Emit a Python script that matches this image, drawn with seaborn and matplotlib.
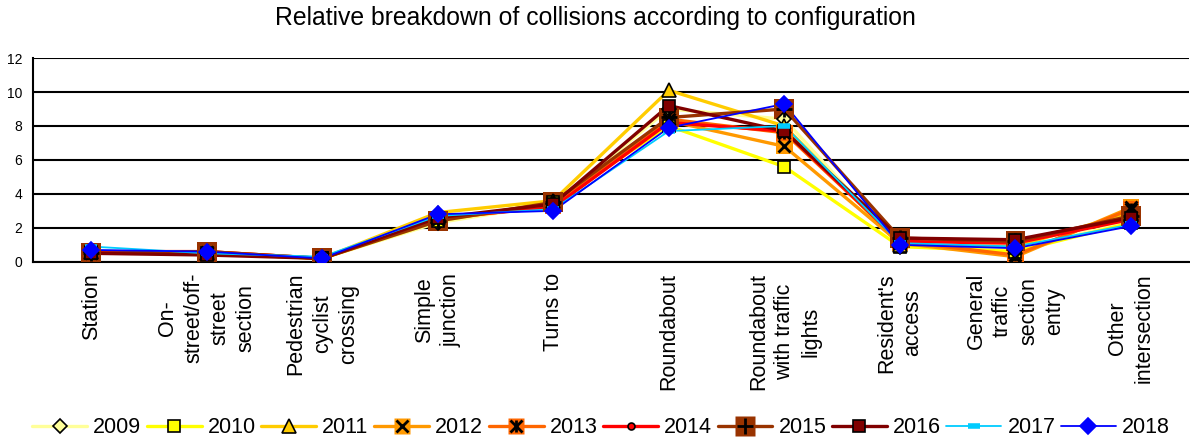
import numpy as np
import pandas as pd
import matplotlib
matplotlib.use("Agg")
import matplotlib.pyplot as plt
from matplotlib.lines import Line2D
from matplotlib.legend_handler import HandlerTuple
import seaborn as sns

categories = [
    "Station",
    "On-\nstreet/off-\nstreet\nsection",
    "Pedestrian\ncyclist\ncrossing",
    "Simple\njunction",
    "Turns to",
    "Roundabout",
    "Roundabout\nwith traffic\nlights",
    "Resident's\naccess",
    "General\ntraffic\nsection\nentry",
    "Other\nintersection",
]

years = ["2009", "2010", "2011", "2012", "2013", "2014", "2015", "2016", "2017", "2018"]

v2009 = [0.6, 0.5, 0.2, 2.3, 3.4, 9.0, 8.4, 0.9, 0.7, 2.4]
v2010 = [0.6, 0.5, 0.2, 2.4, 3.5, 8.0, 5.6, 0.9, 0.6, 2.3]
v2011 = [0.6, 0.5, 0.2, 2.9, 3.6, 10.1, 8.0, 1.0, 0.9, 2.9]
v2012 = [0.5, 0.5, 0.2, 2.5, 3.3, 8.3, 6.8, 1.1, 0.3, 3.2]
v2013 = [0.6, 0.6, 0.2, 2.5, 3.3, 8.4, 7.6, 1.2, 0.4, 3.1]
v2014 = [0.6, 0.6, 0.2, 2.6, 3.2, 8.2, 7.7, 1.2, 1.1, 2.5]
v2015 = [0.5, 0.6, 0.2, 2.4, 3.5, 8.5, 9.0, 1.4, 1.2, 2.7]
v2016 = [0.5, 0.4, 0.2, 2.6, 3.4, 9.2, 7.7, 1.4, 1.3, 2.6]
v2017 = [0.9, 0.5, 0.3, 2.7, 3.1, 7.7, 8.0, 1.1, 0.9, 2.2]
v2018 = [0.7, 0.6, 0.2, 2.8, 3.0, 7.9, 9.3, 1.0, 0.8, 2.1]

series = [v2009, v2010, v2011, v2012, v2013, v2014, v2015, v2016, v2017, v2018]

# line colour, line width, marker glyphs (drawn on top of each other), marker face,
# marker edge, marker size, edge width, backing square colour
styles = {
    "2009": dict(c="#FFFF99", lw=2.4, m=["D"], mfc="#FFFF99", mec="black", ms=7, mew=1.2, bg=None),
    "2010": dict(c="#FFFF00", lw=2.4, m=["s"], mfc="#FFFF00", mec="black", ms=8, mew=1.2, bg=None),
    "2011": dict(c="#FFCC00", lw=2.4, m=["^"], mfc="#FFCC00", mec="black", ms=10, mew=1.2, bg=None),
    "2012": dict(c="#FF9900", lw=2.4, m=["x"], mfc="black", mec="black", ms=9, mew=2.0, bg="#FF9900"),
    "2013": dict(c="#FF6600", lw=2.4, m=["x", "|"], mfc="black", mec="black", ms=9, mew=2.0, bg="#FF6600"),
    "2014": dict(c="#FF0000", lw=2.4, m=["o"], mfc="#FF0000", mec="black", ms=5, mew=1.2, bg=None),
    "2015": dict(c="#993300", lw=2.4, m=["+"], mfc="black", mec="black", ms=11, mew=2.0, bg="#993300"),
    "2016": dict(c="#800000", lw=2.4, m=["s"], mfc="#800000", mec="black", ms=8, mew=1.2, bg=None),
    "2017": dict(c="#00CCFF", lw=1.3, m=["_"], mfc="#00CCFF", mec="#00CCFF", ms=8, mew=4.0, bg=None),
    "2018": dict(c="#0000FF", lw=1.3, m=["D"], mfc="#0000FF", mec="#0000FF", ms=8, mew=1.2, bg=None),
}

sns.set_theme(style="white")
plt.rcParams["font.family"] = ["Liberation Sans", "DejaVu Sans"]
plt.rcParams["text.color"] = "black"
plt.rcParams["xtick.color"] = "black"
plt.rcParams["ytick.color"] = "black"
plt.rcParams["axes.labelcolor"] = "black"

fig = plt.figure(figsize=(11.9, 4.4), dpi=100)
ax = fig.add_axes([0.028, 0.405, 0.971, 0.463])

rows = []
for yr, vals in zip(years, series):
    for i, v in enumerate(vals):
        rows.append({"year": yr, "pos": i, "value": v})
df = pd.DataFrame(rows)

handles = []
for yr in years:
    st = styles[yr]
    sub = df[df["year"] == yr]
    sns.lineplot(data=sub, x="pos", y="value", ax=ax, color=st["c"], lw=st["lw"],
                 legend=False, zorder=3, sort=False)
    parts = [Line2D([], [], color=st["c"], lw=st["lw"])]
    if st["bg"] is not None:
        sns.scatterplot(data=sub, x="pos", y="value", ax=ax, marker="s", s=(st["ms"] * 1.3) ** 2,
                        color=st["bg"], edgecolor="none", linewidth=0, legend=False, zorder=4)
        parts.append(Line2D([], [], ls="none", marker="s", ms=st["ms"] * 1.3,
                            mfc=st["bg"], mec="none"))
    for mk in st["m"]:
        ax.plot(sub["pos"], sub["value"], ls="none", marker=mk, ms=st["ms"],
                mfc=st["mfc"], mec=st["mec"], mew=st["mew"], zorder=5)
        parts.append(Line2D([], [], ls="none", marker=mk, ms=st["ms"], mfc=st["mfc"],
                            mec=st["mec"], mew=st["mew"]))
    handles.append(tuple(parts))

ax.set_xlim(-0.5, len(categories) - 0.5)
ax.set_ylim(0, 12)
ax.set_yticks(np.arange(0, 13, 2))
ax.set_yticklabels([str(t) for t in range(0, 13, 2)], fontsize=10, color="black")
ax.set_xticks(np.arange(len(categories)))
ax.set_xticklabels(categories, rotation=90, fontsize=15.5, va="top", ha="center",
                   multialignment="center", linespacing=1.32, color="black")
ax.set_xticks(np.arange(len(categories) + 1) - 0.5, minor=True)
ax.tick_params(axis="x", which="major", length=0, pad=8)
ax.tick_params(axis="x", which="minor", length=6, width=1.5, color="black", direction="out")
ax.tick_params(axis="y", length=5, width=1.5, color="black", direction="out", pad=3)
ax.yaxis.grid(True, color="black", lw=1.5)
ax.set_axisbelow(True)
ax.set_xlabel("")
ax.set_ylabel("")

for side in ("top", "right"):
    ax.spines[side].set_visible(False)
for side in ("left", "bottom"):
    ax.spines[side].set_color("black")
    ax.spines[side].set_linewidth(1.5)

fig.text(0.5, 0.958, "Relative breakdown of collisions according to configuration",
         ha="center", va="center", fontsize=17.8, color="black")

fig.legend(handles, years, loc="center", bbox_to_anchor=(0.505, 0.028), ncol=10,
           frameon=False, fontsize=15.5, handlelength=2.55, handletextpad=0.28,
           columnspacing=0.26, labelcolor="black",
           handler_map={tuple: HandlerTuple(ndivide=1, pad=0)})

fig.savefig("out.png", dpi=100)
